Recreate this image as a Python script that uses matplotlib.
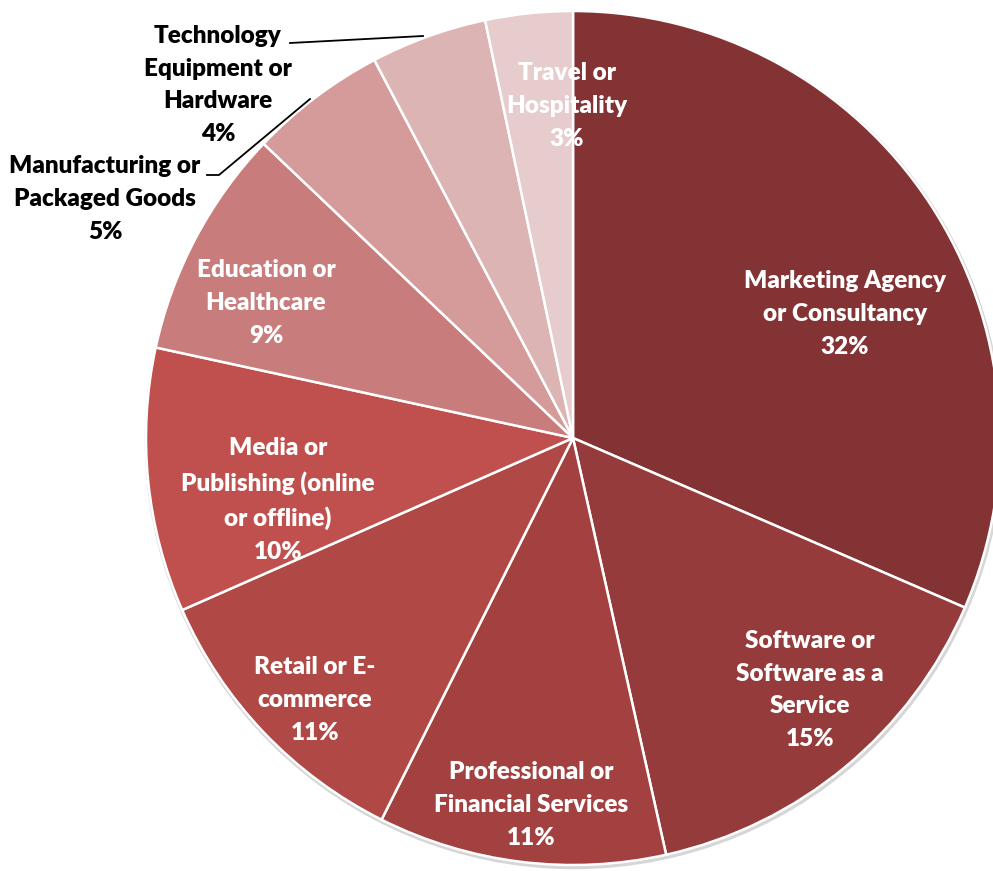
import matplotlib
matplotlib.use("Agg")
import matplotlib.pyplot as plt
from matplotlib.patches import Circle

industries = ["Marketing Agency\nor Consultancy",
              "Software or\nSoftware as a\nService",
              "Professional or\nFinancial Services",
              "Retail or E-\ncommerce",
              "Media or\nPublishing (online\nor offline)",
              "Education or\nHealthcare",
              "Manufacturing or\nPackaged Goods",
              "Technology\nEquipment or\nHardware",
              "Travel or\nHospitality"]
shares = [31.5, 15.0, 10.9, 11.0, 10.0, 8.7, 5.2, 4.4, 3.3]
colors = ["#843335", "#963B3B", "#A34141", "#B04846", "#C0504D",
          "#C87C7B", "#D49B9A", "#DDB4B4", "#E6CCCC"]

# label centres in pixel coords (y measured from top)
label_pos = [(845, 314), (810, 690), (531, 805), (315, 700), (278, 500),
             (266, 303), (105, 199), (218, 85), (567, 106)]
label_color = ["white"] * 6 + ["black", "black", "white"]

W, H = 993, 871
cx, cy, r = 573, 438, 427

fig = plt.figure(figsize=(W / 100, H / 100), dpi=100)
ax = fig.add_axes([0, 0, 1, 1])

# faint shadow behind the pie
ax.add_patch(Circle((cx + 1, H - cy - 2), r + 0.5, facecolor="none",
                    edgecolor="#d6d6d6", linewidth=2.5, zorder=0))

ax.pie(shares, colors=colors, startangle=90, counterclock=False,
       center=(cx, H - cy), radius=r,
       wedgeprops=dict(edgecolor="white", linewidth=1.8))

for name, v, (x, y), c in zip(industries, shares, label_pos, label_color):
    ax.text(x, H - y, f"{name}\n{int(v + 0.5)}%", ha="center", va="center",
            fontsize=17.5, fontweight="heavy", family="Lato", color=c,
            linespacing=1.6, zorder=5)

# leader lines for the two outside labels
ax.plot([290, 423], [H - 43, H - 36], color="black", lw=1.3, zorder=4)
ax.plot([207, 219, 310], [H - 175, H - 175, H - 99], color="black", lw=1.3, zorder=4)

ax.set_xlim(0, W)
ax.set_ylim(0, H)
ax.set_aspect("equal")
ax.axis("off")

fig.savefig("out.png", dpi=100, facecolor="white")
